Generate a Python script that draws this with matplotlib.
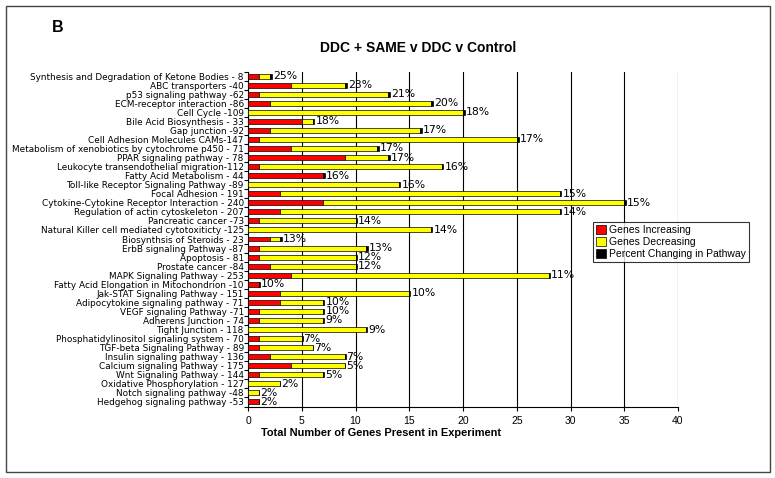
import matplotlib
matplotlib.use("Agg")
import matplotlib.pyplot as plt
import numpy as np
from matplotlib.patches import Patch, Rectangle

plt.rcParams['font.family'] = ['Liberation Sans', 'DejaVu Sans']

# pathway labels (top to bottom)
pathways = [
    "Synthesis and Degradation of Ketone Bodies - 8",
    "ABC transporters -40",
    "p53 signaling pathway -62",
    "ECM-receptor interaction -86",
    "Cell Cycle -109",
    "Bile Acid Biosynthesis - 33",
    "Gap junction -92",
    "Cell Adhesion Molecules CAMs-147",
    "Metabolism of xenobiotics by cytochrome p450 - 71",
    "PPAR signaling pathway - 78",
    "Leukocyte transendothelial migration-112",
    "Fatty Acid Metabolism - 44",
    "Toll-like Receptor Signaling Pathway -89",
    "Focal Adhesion - 191",
    "Cytokine-Cytokine Receptor Interaction - 240",
    "Regulation of actin cytoskeleton - 207",
    "Pancreatic cancer -73",
    "Natural Killer cell mediated cytotoxiticty -125",
    "Biosynthsis of Steroids - 23",
    "ErbB signaling Pathway -87",
    "Apoptosis - 81",
    "Prostate cancer -84",
    "MAPK Signaling Pathway - 253",
    "Fatty Acid Elongation in Mitochondrion -10",
    "Jak-STAT Signaling Pathway - 151",
    "Adipocytokine signaling pathway - 71",
    "VEGF signaling Pathway -71",
    "Adherens Junction - 74",
    "Tight Junction - 118",
    "Phosphatidylinositol signaling system - 70",
    "TGF-beta Signaling Pathway - 89",
    "Insulin signaling pathway - 136",
    "Calcium signaling Pathway - 175",
    "Wnt Signaling Pathway - 144",
    "Oxidative Phosphorylation - 127",
    "Notch signaling pathway -48",
    "Hedgehog signaling pathway -53",
]

genes_up = [1, 4, 1, 2, 0, 5, 2, 1, 4, 9, 1, 7, 0, 3, 7, 3, 1, 0, 2, 1, 1, 2, 4,
            1, 3, 3, 1, 1, 0, 1, 1, 2, 4, 1, 0, 0, 1]
genes_down = [1, 5, 12, 15, 20, 1, 14, 24, 8, 4, 17, 0, 14, 26, 28, 26, 9, 17, 1, 10, 9, 8, 24,
              0, 12, 4, 6, 6, 11, 4, 5, 7, 5, 6, 3, 1, 0]
pct_changing = [25, 23, 21, 20, 18, 18, 17, 17, 17, 17, 16, 16, 16, 15, 15, 14, 14, 14, 13, 13, 12, 12, 11,
                10, 10, 10, 10, 9, 9, 7, 7, 7, 5, 5, 2, 2, 2]

up = np.array(genes_up)
down = np.array(genes_down)
pct = np.array(pct_changing) / 100.0
y = np.arange(len(pathways))

fig = plt.figure(figsize=(7.75, 4.78), dpi=100)
ax = fig.add_axes([248/775, 1-406.5/478, 430/775, 335/478])

h = 0.55
ax.barh(y, up, height=h, color="#ff0000", edgecolor="black", linewidth=0.5, zorder=3)
ax.barh(y, down, left=up, height=h, color="#ffff00", edgecolor="black", linewidth=0.5, zorder=3)
ax.barh(y, pct, left=up+down, height=h, color="black", edgecolor="black", linewidth=0.5, zorder=3)

for yi, tot, p in zip(y, up+down+pct, pct_changing):
    ax.text(tot + 0.1, yi, f"{p}%", va="center", ha="left", fontsize=7.8,
            family="DejaVu Sans", zorder=4)

ax.set_xlim(0, 40)
ax.set_ylim(len(pathways)-0.5, -0.5)
ax.set_xticks(np.arange(0, 41, 5))
ax.tick_params(axis="x", labelsize=7.5, length=3, width=0.8, pad=4)
ax.set_yticks(y)
ax.set_yticklabels(pathways, fontsize=6.4, family="DejaVu Sans")
ax.tick_params(axis="y", length=0, pad=3)
ax.set_yticks(np.arange(-0.5, len(pathways), 1), minor=True)
ax.tick_params(axis="y", which="minor", length=3, width=0.8)
ax.grid(axis="x", color="black", linewidth=0.8, zorder=0)
for s in ["top", "right"]:
    ax.spines[s].set_visible(False)
ax.spines["left"].set_linewidth(0.8)
ax.spines["bottom"].set_linewidth(0.8)

fig.text(381/775, 1-433/478, "Total Number of Genes Present in Experiment",
         ha="center", va="center", fontsize=7.9, fontweight="bold")
fig.text(418/775, 1-48/478, "DDC + SAME v DDC v Control",
         ha="center", va="center", fontsize=10, fontweight="bold")
fig.text(52/775, 1-28/478, "B", ha="left", va="center", fontsize=11.5, fontweight="bold")

handles = [Patch(facecolor="#ff0000", edgecolor="black", linewidth=0.5),
           Patch(facecolor="#ffff00", edgecolor="black", linewidth=0.5),
           Patch(facecolor="black", edgecolor="black", linewidth=0.5)]
leg = fig.legend(handles, ["Genes Increasing", "Genes Decreasing", "Percent Changing in Pathway"],
                 loc="upper left", bbox_to_anchor=(593/775, 1-222/478), fontsize=7.5,
                 frameon=True, fancybox=False, edgecolor="black", handlelength=0.9,
                 handleheight=0.9, handletextpad=0.3, borderpad=0.3, labelspacing=0.2,
                 borderaxespad=0)
leg.get_frame().set_linewidth(0.8)

fig.patches.append(Rectangle((6/775, 6/478), 764/775, 466/478, transform=fig.transFigure,
                             fill=False, edgecolor="#444444", linewidth=1))

fig.savefig("out.png", dpi=100)
